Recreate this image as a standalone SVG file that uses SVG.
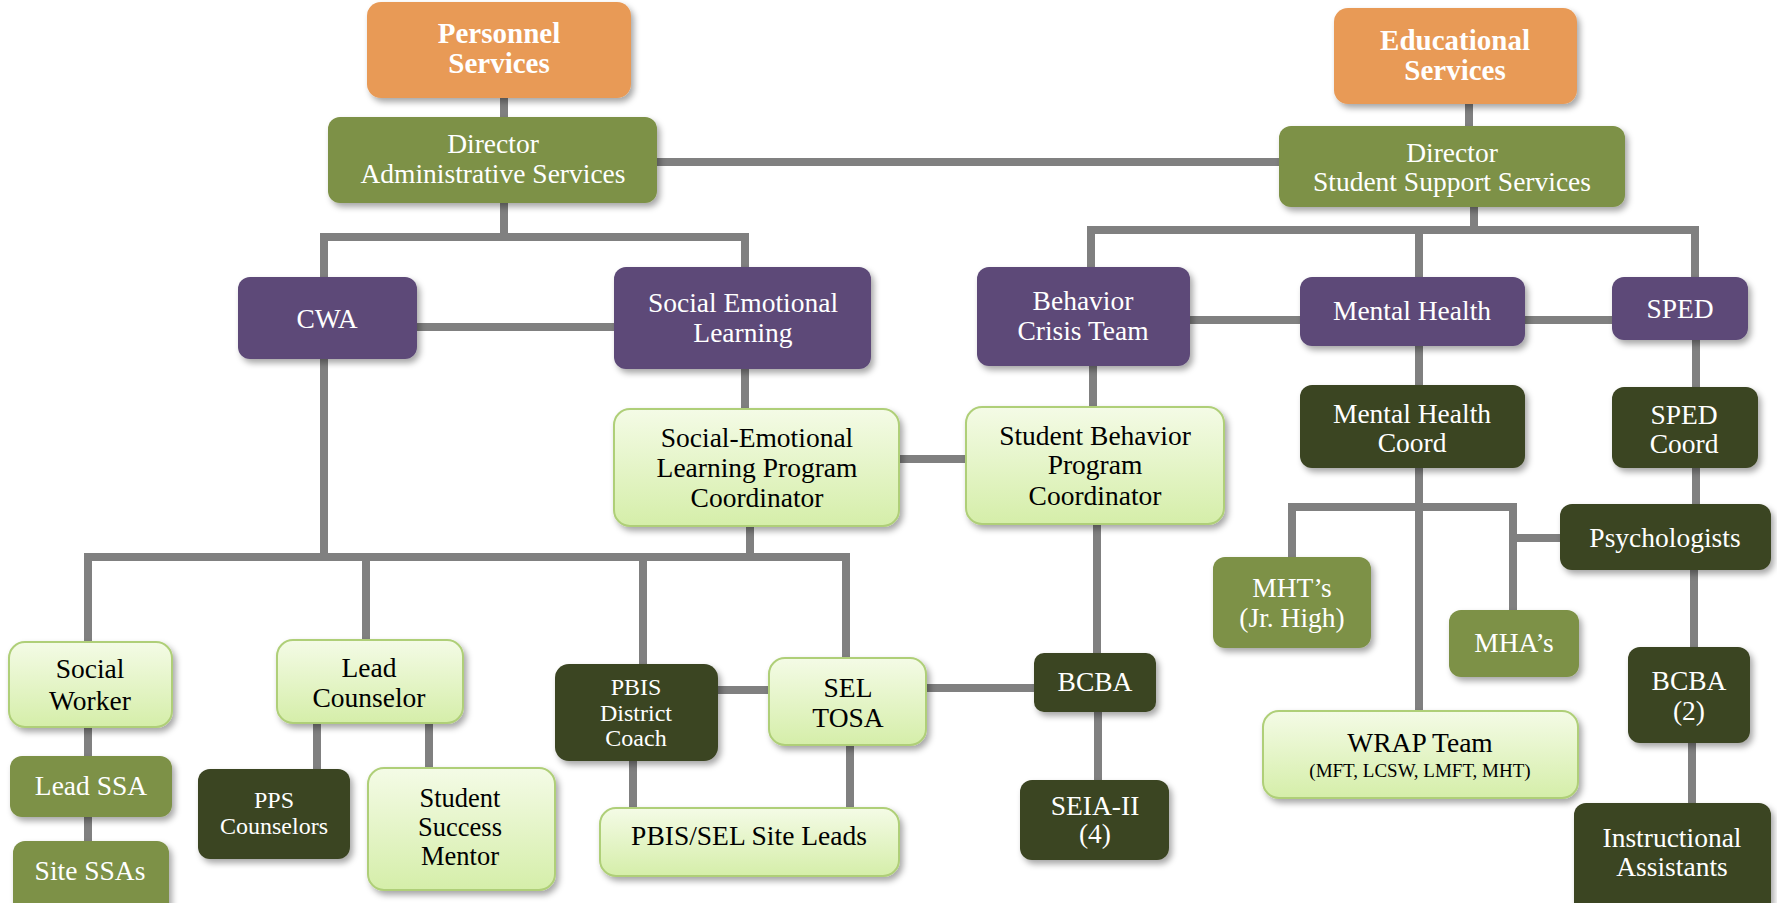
<svg xmlns="http://www.w3.org/2000/svg" width="1777" height="903" viewBox="0 0 1777 903">
  <defs>
    <linearGradient id="lightFill" x1="0" y1="0" x2="0" y2="1">
      <stop offset="0" stop-color="#F4FBE6"/>
      <stop offset="1" stop-color="#D5EEA9"/>
    </linearGradient>
    <filter id="shadow" x="-10%" y="-10%" width="125%" height="135%">
      <feDropShadow dx="3" dy="4" stdDeviation="3" flood-color="#000" flood-opacity="0.35"/>
    </filter>
    <style>
      .box { filter: url(#shadow); }
      .orange { fill: #E89A57; }
      .olive { fill: #7D9146; }
      .purple { fill: #5D4A78; }
      .dark { fill: #3B4422; }
      .light { fill: url(#lightFill); stroke: #AFCF78; stroke-width: 2; }
      text { font-family: "Liberation Serif", "Times New Roman", serif; font-size: 27.5px; text-anchor: middle; }
      .w { fill: #FFFFFF; }
      .k { fill: #000000; }
      .b { font-weight: bold; font-size: 29px; }
      .s { font-size: 24px; }
      .m { font-size: 26.5px; }
      .xs { font-size: 19px; }
      .links path { fill: none; stroke: #808080; stroke-width: 8; }
    </style>
  </defs>

  <rect width="1777" height="903" fill="#FFFFFF"/>

  <!-- connectors -->
  <g class="links">
    <path d="M504 98V117"/>
    <path d="M657 162H1279"/>
    <path d="M504 203V237M320 237H749M324 233V277M745 233V267"/>
    <path d="M417 327H614"/>
    <path d="M745 369V409"/>
    <path d="M324 359V557"/>
    <path d="M750 526V557"/>
    <path d="M84 557H850M88 553V642M366 553V640M643 553V664M846 553V658"/>
    <path d="M899 459H966"/>
    <path d="M718 690H769"/>
    <path d="M926 688H1034"/>
    <path d="M633 761V808M850 745V808"/>
    <path d="M88 727V756M88 817V841"/>
    <path d="M317 723V769M429 723V768"/>
    <path d="M1469 104V126"/>
    <path d="M1474 207V230M1087 230H1699M1091 226V267M1419 226V277M1695 226V277"/>
    <path d="M1190 320H1300M1525 320H1612"/>
    <path d="M1093 366V407M1097 524V653M1098 712V780"/>
    <path d="M1419 346V385M1696 340V387"/>
    <path d="M1419 468V711"/>
    <path d="M1288 507H1517M1292 503V557M1513 503V610"/>
    <path d="M1513 538H1560"/>
    <path d="M1696 468V504M1694 570V647M1692 743V803"/>
  </g>

  <!-- top level -->
  <g id="personnel-services">
    <rect class="box orange" x="367" y="2" width="264" height="96" rx="14"/>
    <text class="w b" x="499" y="43">Personnel</text>
    <text class="w b" x="499" y="73">Services</text>
  </g>
  <g id="educational-services">
    <rect class="box orange" x="1334" y="8" width="243" height="96" rx="14"/>
    <text class="w b" x="1455" y="50">Educational</text>
    <text class="w b" x="1455" y="80">Services</text>
  </g>

  <!-- directors -->
  <g id="director-administrative">
    <rect class="box olive" x="328" y="117" width="329" height="86" rx="12"/>
    <text class="w" x="493" y="153">Director</text>
    <text class="w" x="493" y="183">Administrative Services</text>
  </g>
  <g id="director-student-support">
    <rect class="box olive" x="1279" y="126" width="346" height="81" rx="12"/>
    <text class="w" x="1452" y="162">Director</text>
    <text class="w" x="1452" y="191">Student Support Services</text>
  </g>

  <!-- departments -->
  <g id="cwa">
    <rect class="box purple" x="238" y="277" width="179" height="82" rx="12"/>
    <text class="w" x="327" y="328">CWA</text>
  </g>
  <g id="social-emotional-learning">
    <rect class="box purple" x="614" y="267" width="257" height="102" rx="12"/>
    <text class="w" x="743" y="312">Social Emotional</text>
    <text class="w" x="743" y="342">Learning</text>
  </g>
  <g id="behavior-crisis-team">
    <rect class="box purple" x="977" y="267" width="213" height="99" rx="12"/>
    <text class="w" x="1083" y="310">Behavior</text>
    <text class="w" x="1083" y="340">Crisis Team</text>
  </g>
  <g id="mental-health">
    <rect class="box purple" x="1300" y="277" width="225" height="69" rx="12"/>
    <text class="w" x="1412" y="320">Mental Health</text>
  </g>
  <g id="sped">
    <rect class="box purple" x="1612" y="277" width="136" height="63" rx="12"/>
    <text class="w" x="1680" y="318">SPED</text>
  </g>

  <!-- coordinators -->
  <g id="sel-program-coordinator">
    <rect class="box light" x="614" y="409" width="285" height="117" rx="16"/>
    <text class="k" x="757" y="447">Social-Emotional</text>
    <text class="k" x="757" y="477">Learning Program</text>
    <text class="k" x="757" y="507">Coordinator</text>
  </g>
  <g id="student-behavior-coordinator">
    <rect class="box light" x="966" y="407" width="258" height="117" rx="16"/>
    <text class="k" x="1095" y="445">Student Behavior</text>
    <text class="k" x="1095" y="474">Program</text>
    <text class="k" x="1095" y="505">Coordinator</text>
  </g>
  <g id="mental-health-coord">
    <rect class="box dark" x="1300" y="385" width="225" height="83" rx="12"/>
    <text class="w" x="1412" y="423">Mental Health</text>
    <text class="w" x="1412" y="452">Coord</text>
  </g>
  <g id="sped-coord">
    <rect class="box dark" x="1612" y="387" width="146" height="81" rx="12"/>
    <text class="w" x="1684" y="424">SPED</text>
    <text class="w" x="1684" y="453">Coord</text>
  </g>
  <g id="psychologists">
    <rect class="box dark" x="1560" y="504" width="211" height="66" rx="12"/>
    <text class="w" x="1665" y="547">Psychologists</text>
  </g>

  <!-- mental health staff -->
  <g id="mhts">
    <rect class="box olive" x="1213" y="557" width="158" height="91" rx="12"/>
    <text class="w" x="1292" y="597">MHT’s</text>
    <text class="w" x="1292" y="627">(Jr. High)</text>
  </g>
  <g id="mhas">
    <rect class="box olive" x="1449" y="610" width="130" height="67" rx="12"/>
    <text class="w" x="1514" y="652">MHA’s</text>
  </g>
  <g id="wrap-team">
    <rect class="box light" x="1263" y="711" width="315" height="87" rx="16"/>
    <text class="k" x="1420" y="752">WRAP Team</text>
    <text class="k xs" x="1420" y="777">(MFT, LCSW, LMFT, MHT)</text>
  </g>

  <!-- special education staff -->
  <g id="bcba-sped">
    <rect class="box dark" x="1628" y="647" width="122" height="96" rx="12"/>
    <text class="w" x="1689" y="690">BCBA</text>
    <text class="w" x="1689" y="720">(2)</text>
  </g>
  <g id="instructional-assistants">
    <rect class="box dark" x="1574" y="803" width="197" height="115" rx="12"/>
    <text class="w" x="1672" y="847">Instructional</text>
    <text class="w" x="1672" y="876">Assistants</text>
  </g>

  <!-- behavior staff -->
  <g id="bcba-behavior">
    <rect class="box dark" x="1034" y="653" width="122" height="59" rx="10"/>
    <text class="w" x="1095" y="691">BCBA</text>
  </g>
  <g id="seia-ii">
    <rect class="box dark" x="1020" y="780" width="149" height="80" rx="12"/>
    <text class="w" x="1095" y="815">SEIA-II</text>
    <text class="w" x="1095" y="843">(4)</text>
  </g>

  <!-- site staff -->
  <g id="social-worker">
    <rect class="box light" x="9" y="642" width="163" height="85" rx="16"/>
    <text class="k" x="90" y="678">Social</text>
    <text class="k" x="90" y="710">Worker</text>
  </g>
  <g id="lead-ssa">
    <rect class="box olive" x="10" y="756" width="162" height="61" rx="12"/>
    <text class="w" x="91" y="795">Lead SSA</text>
  </g>
  <g id="site-ssas">
    <rect class="box olive" x="13" y="841" width="156" height="75" rx="12"/>
    <text class="w" x="90" y="880">Site SSAs</text>
  </g>
  <g id="lead-counselor">
    <rect class="box light" x="277" y="640" width="186" height="83" rx="16"/>
    <text class="k" x="369" y="677">Lead</text>
    <text class="k" x="369" y="707">Counselor</text>
  </g>
  <g id="pps-counselors">
    <rect class="box dark" x="198" y="769" width="152" height="90" rx="12"/>
    <text class="w s" x="274" y="808">PPS</text>
    <text class="w s" x="274" y="834">Counselors</text>
  </g>
  <g id="student-success-mentor">
    <rect class="box light" x="368" y="768" width="187" height="122" rx="16"/>
    <text class="k m" x="460" y="807">Student</text>
    <text class="k m" x="460" y="836">Success</text>
    <text class="k m" x="460" y="865">Mentor</text>
  </g>
  <g id="pbis-district-coach">
    <rect class="box dark" x="555" y="664" width="163" height="97" rx="14"/>
    <text class="w s" x="636" y="695">PBIS</text>
    <text class="w s" x="636" y="721">District</text>
    <text class="w s" x="636" y="746">Coach</text>
  </g>
  <g id="sel-tosa">
    <rect class="box light" x="769" y="658" width="157" height="87" rx="16"/>
    <text class="k" x="848" y="697">SEL</text>
    <text class="k" x="848" y="727">TOSA</text>
  </g>
  <g id="pbis-sel-site-leads">
    <rect class="box light" x="600" y="808" width="299" height="68" rx="16"/>
    <text class="k" x="749" y="845">PBIS/SEL Site Leads</text>
  </g>
</svg>
